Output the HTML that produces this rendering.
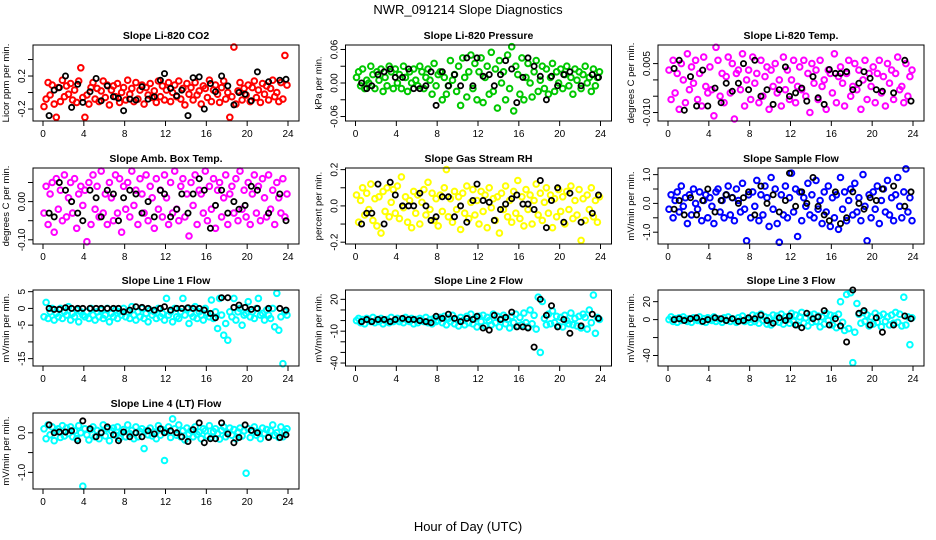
<!DOCTYPE html>
<html><head><meta charset="utf-8"><style>
html,body{margin:0;padding:0;background:#fff}
svg{display:block;font-family:"Liberation Sans",sans-serif}
</style></head><body>
<svg id="chart" width="936" height="540" viewBox="0 0 936 540">
<text x="468" y="14" text-anchor="middle" font-size="13">NWR_091214  Slope Diagnostics</text>
<text x="468" y="531" text-anchor="middle" font-size="13">Hour of Day (UTC)</text>
</svg>
<script>
const hours=[0.1,0.3,0.5,0.7,0.9,1.1,1.3,1.5,1.7,1.9,2.1,2.3,2.5,2.7,2.9,3.1,3.3,3.5,3.7,3.9,4.1,4.3,4.5,4.7,4.9,5.1,5.3,5.5,5.7,5.9,6.1,6.3,6.5,6.7,6.9,7.1,7.3,7.5,7.7,7.9,8.1,8.3,8.5,8.7,8.9,9.1,9.3,9.5,9.7,9.9,10.1,10.3,10.5,10.7,10.9,11.1,11.3,11.5,11.7,11.9,12.1,12.3,12.5,12.7,12.9,13.1,13.3,13.5,13.7,13.9,14.1,14.3,14.5,14.7,14.9,15.1,15.3,15.5,15.7,15.9,16.1,16.3,16.5,16.7,16.9,17.1,17.3,17.5,17.7,17.9,18.1,18.3,18.5,18.7,18.9,19.1,19.3,19.5,19.7,19.9,20.1,20.3,20.5,20.7,20.9,21.1,21.3,21.5,21.7,21.9,22.1,22.3,22.5,22.7,22.9,23.1,23.3,23.5,23.7,23.9];
const blackHours=[0.6,1.1,1.6,2.2,2.8,3.4,3.9,4.6,5.2,5.7,6.3,6.9,7.4,7.9,8.5,9.1,9.7,10.3,10.9,11.5,11.9,12.5,13.1,13.6,14.2,14.7,15.3,15.8,16.4,16.9,17.5,18.1,18.7,19.2,19.8,20.4,21.0,22.1,23.2,23.8];
const xTicks=[0,4,8,12,16,20,24];
const titles=["Slope Li-820 CO2","Slope Li-820 Pressure","Slope Li-820 Temp.","Slope Amb. Box Temp.","Slope Gas Stream RH","Slope Sample Flow","Slope Line 1 Flow","Slope Line 2 Flow","Slope Line 3 Flow","Slope Line 4 (LT) Flow"];
const yTitles=["Licor ppm per min.","kPa per min.","degrees C per min.","degrees C per min.","percent per min.","mV/min per min.","mV/min per min.","mV/min per min.","mV/min per min.","mV/min per min."];
const colors=["#ff0000","#00c800","#ff00ff","#ff00ff","#ffff00","#0000ff","#00ffff","#00ffff","#00ffff","#00ffff"];
const yMin=[-0.345,-0.068,-0.0126,-0.111,-0.21,-1.41,-17.2,-42.8,-51.7,-1.42];
const yMax=[0.576,0.068,0.0107,0.088,0.209,1.23,5.5,28.8,33,0.5];
const yTicks=[[-0.2,0,0.2,0.4],[-0.06,-0.03,0,0.03,0.06],[-0.01,-0.005,0,0.005],[-0.1,-0.05,0,0.05],[-0.2,-0.1,0,0.1,0.2],[-1,-0.5,0,0.5,1],[-15,-10,-5,0,5],[-40,-30,-20,-10,0,10,20],[-40,-20,0,20],[-1,-0.5,0]];
const yTickLabels=[["-0.2","","0.2",""],["-0.06","","0.00","","0.06"],["-0.010","","","0.005"],["-0.10","","0.00",""],["-0.2","","0.0","","0.2"],["-1.0","","0.0","","1.0"],["-15","","-5","0","5"],["-40","","","-10","","","20"],["-40","","0","20"],["-1.0","","0.0"]];
const s0=[-.17,-.08,.12,-.03,.09,-.14,-.3,.06,-.11,.15,-.05,.08,-.02,.11,-.09,.03,-.12,.14,.3,-.06,-.3,-.03,-.14,.06,.12,-.08,.05,-.11,.02,.14,-.06,.09,-.15,.03,.08,-.05,.11,-.12,0,.06,-.09,.15,-.02,.05,-.11,.12,-.08,.03,.09,-.14,.06,-.03,.11,-.06,.02,-.12,.14,-.05,.08,-.09,.03,.12,-.11,0,.09,-.05,.14,-.08,.05,-.15,.11,-.02,.06,-.09,.12,-.03,.02,-.14,.08,.05,-.06,.15,-.11,.03,.09,-.02,-.12,.06,.14,-.08,0,-.3,-.05,.55,-.14,.02,.12,-.09,.05,-.03,.09,-.11,.06,.14,-.06,.03,-.12,.11,-.02,.08,-.09,.05,.15,-.05,0,-.11,.12,-.08,.45,.09];
const s1=[.01,.02,-.005,.025,-.01,.005,0,.03,.015,-.01,.02,.005,.025,-.015,.01,-.005,.03,.02,-.01,.025,0,.015,-.01,.03,.01,-.015,.02,0,.025,.005,-.005,.03,.02,-.01,.01,.025,.005,-.02,.035,-.005,.015,.02,-.03,.01,-.02,-.005,.04,.005,.015,-.015,.03,-.04,.045,.01,-.025,.02,.05,-.01,.035,-.03,.02,.045,-.035,.01,.03,-.02,.055,-.015,.025,-.045,.04,0,.02,-.03,.05,-.01,.065,-.05,.03,.015,-.02,.045,-.03,.01,.035,0,-.025,.02,.04,-.015,.005,.03,-.01,.025,-.02,.01,.035,-.015,.02,0,.025,-.01,.015,.03,-.005,.01,-.02,.025,.005,.02,-.01,.015,.03,0,.01,-.015,.025,-.005,.01,.02];
const s2=[.003,-.006,.006,-.004,.002,-.009,.005,0,-.007,.008,-.003,.004,-.001,.006,-.006,.002,-.008,.007,-.002,-.004,.004,-.003,-.011,.01,.006,-.005,.002,-.007,.001,.007,-.004,.005,-.012,.002,.003,-.003,.008,-.008,0,.003,-.006,.007,-.001,.002,-.007,.006,-.005,.001,.004,-.009,.003,-.002,.005,-.004,0,-.008,.007,-.003,.003,-.006,0,.006,-.007,-.002,.004,-.003,.006,-.005,.002,-.01,.005,-.001,.003,-.006,.006,-.002,0,-.009,.003,.002,-.004,.008,-.007,.001,.004,-.001,-.008,.002,.006,-.005,-.002,.005,-.003,.003,-.009,0,.006,-.006,.002,-.002,.004,-.007,.002,.006,-.004,.001,-.008,.005,-.001,.003,-.006,.002,.007,-.003,-.002,-.007,.005,-.005,.001,.003];
const s3=[-.03,.04,-.06,.02,.05,-.08,.06,-.02,.03,-.05,.07,-.04,.01,.05,-.03,.06,-.07,.02,.04,-.01,.03,-.105,.05,-.06,.07,-.02,.04,-.04,.08,-.03,.02,-.06,.05,.01,-.05,.07,-.03,.06,-.08,.04,-.02,.05,-.04,.08,-.01,.03,-.06,.06,.02,-.03,.07,-.05,.04,.01,-.07,.06,-.02,.03,-.04,.07,.01,-.06,.05,-.03,.08,-.02,-.05,.04,.06,-.04,.02,-.09,.05,-.01,.07,-.06,.03,.02,-.03,.08,-.05,.04,-.02,.06,-.07,.03,.05,-.04,.01,.07,-.06,.02,.04,-.03,.06,-.05,.08,-.02,.03,-.04,.05,-.06,.02,.07,-.03,.04,-.05,.06,.01,-.04,.07,-.02,.03,-.06,.05,.01,-.03,.06,-.04,.02];
const s4=[.06,-.09,.03,.1,-.05,.07,-.02,.12,-.08,.04,-.11,.05,-.15,.08,-.03,.1,-.06,.02,.09,-.04,.11,-.07,.16,-.01,.05,-.09,.03,-.12,.08,-.04,.06,-.1,.02,.09,-.05,.13,-.02,.07,-.08,.04,-.11,.06,-.03,.1,.2,-.06,.04,-.09,.08,-.02,.05,-.13,.07,-.04,.11,-.07,.02,.09,-.05,.03,-.1,.08,-.03,.06,-.12,.1,-.01,.04,-.08,.05,-.15,.07,-.02,.11,-.06,.03,-.09,.08,-.04,.14,-.07,.05,-.11,.09,-.02,.06,-.1,.03,.12,-.05,.07,-.08,.02,.1,-.04,.06,-.12,.04,-.06,.09,-.03,.05,-.1,.08,-.02,.11,-.07,.03,-.05,.09,-.19,.04,-.08,.06,-.02,.1,-.06,.03,-.09,.05];
const s5=[-.2,.3,-.5,.1,.4,-.3,.6,-.1,.2,-.7,.3,-.4,.5,0,-.2,.4,-.6,.1,.3,-.5,.2,-.1,-.7,.4,.5,-.3,.1,-.5,.3,.6,-.4,.2,-.6,.5,.1,-.3,.7,-.2,-1.3,.3,-.5,.4,-.1,.8,-.6,.3,-.4,.6,.2,-.8,.9,-.2,.5,-.7,-1.35,.3,-.4,.6,-.5,.2,1.05,-.3,.5,-1.15,.4,-.6,.2,-.1,.7,-.4,.3,-.5,.8,-.2,.1,-.7,.4,-.3,.6,-.8,.2,-.5,.3,-.9,.9,-.2,.4,-.6,.1,.5,-.4,.7,-.3,.2,-.6,1.0,-.1,-1.3,.3,-.5,.4,-.2,.6,-.7,.1,.5,-.3,.8,-.4,.2,-.6,.3,.9,-.1,-.5,.4,1.2,-.3,.2,-.6];
const s6=[-2.5,1.8,-3,-1,0,-3.5,-1.5,-2.5,0,-3,-1,-2,.5,-3.5,-1.5,-2.5,-.5,-4,-1,-2,-2.5,-1,-3,0,-2,-3.5,-1,-2.5,-.5,-3,-2,0,-4,-1.5,-2.5,-.5,-3,-1,-2,0,-2.5,-1,-3,.5,-2,-3.5,-1,-2.5,0,-3,-1.5,-4,-.5,-2,-1,-3,0,-2.5,-1.5,-3.5,3,-2,-1,-4,0,-2.5,-3,-1,3,-2,0,-4.5,-1.5,-2.5,.5,-3,-1,-2,-3.5,0,-1.5,-2.5,2.5,-3,-1,-6,3,-2,-8,-4.5,-9.5,-1,-2.5,3,-3.5,-1,0,-5,-2,-1.5,2,-2.5,-1,-3,0,3,-2,-1.5,-3.5,-.5,-2,-3,0,-5.5,4.5,-6.5,-2.5,-16.5,-1,-2];
const s7=[0,2,-2,1,-3,2,0,-1,3,-2,1,-1,2,-3,0,1,-2,3,-1,0,2,-1,1,-2,3,0,-1,2,-3,1,-2,2,0,-1,3,-2,1,-3,2,-1,0,3,-2,4,-4,2,-1,5,-3,1,-5,3,0,-4,4,-2,6,-3,2,-6,4,-1,5,-5,3,0,-4,6,-2,4,-6,2,5,-3,1,-7,4,-2,6,-5,3,-4,7,-2,-6,10,-3,5,-8,22,-30,18,2,-4,6,-3,9,-2,4,-5,3,-6,5,0,-3,7,-4,2,-5,4,-7,6,3,-8,10,-2,24,-12,3,1];
const s8=[0,3,-2,1,-3,2,-1,3,0,-2,1,-3,2,0,-1,3,-2,1,-3,2,0,-1,3,-2,1,0,-3,2,-1,3,-2,1,0,-3,2,-1,4,-2,1,0,-3,5,-2,4,-4,6,-1,3,-5,2,-6,5,-2,4,-3,6,-5,3,0,-4,7,-2,5,-6,3,8,-4,2,-7,5,-3,6,-2,4,-8,3,-5,7,-1,5,-6,4,-9,6,20,-3,-12,28,-10,30,-48,-14,18,6,-4,8,-2,5,-7,3,-5,7,-3,4,-8,6,-2,3,-6,5,-4,8,-3,6,-7,25,-6,3,-28,2];
const s9=[.1,-.15,.2,-.05,.15,-.2,.05,.1,-.12,.18,-.08,.12,-.02,.15,-.1,.05,-.15,.18,0,-1.35,.1,-.05,-.18,.08,.15,-.1,.06,-.15,.02,.2,-.08,.1,-.2,.05,.12,-.06,.15,-.14,0,.08,-.1,.2,-.02,.06,-.15,.15,-.1,.03,.1,-.4,.05,-.05,.12,-.08,.02,-.15,.18,-.06,.08,-.7,.03,.15,-.12,.35,.1,-.06,.2,-.1,.05,-.18,.12,-.03,.06,-.1,.15,-.04,.02,-.15,.1,.05,-.08,.18,-.12,.03,.1,-.02,-.16,.06,.15,-.1,0,.12,-.06,.08,-.15,.02,.12,-.08,.05,-1.02,.1,-.12,.06,.15,-.06,.03,-.15,.12,-.02,.08,-.1,.05,.2,-.06,0,-.12,.15,-.1,.03,.1];
const b0=[-.28,.03,.06,.2,-.18,.1,-.12,.01,.17,-.1,.08,-.05,-.07,-.22,-.08,-.09,.07,-.08,-.05,.15,.23,.05,-.04,.03,-.28,.18,.19,-.2,.11,.01,.2,.08,-.15,0,-.02,-.1,.25,.13,.15,.16];
const b1=[0,-.01,-.005,.015,.02,.025,.01,.01,.025,-.01,-.01,-.005,.02,-.04,.02,-.005,.015,-.005,.045,-.005,.045,.012,.015,-.005,.015,.04,.025,-.035,.01,.045,.03,.012,-.03,.012,-.005,.015,.02,-.005,.015,.01];
const b2=[.0035,.006,-.0093,.001,-.008,.003,-.008,-.0025,-.007,-.001,-.0035,-.001,.005,-.003,.006,-.005,-.003,-.0075,-.003,.004,-.005,-.004,-.0025,-.0065,.001,-.0055,-.0075,.0032,.002,.002,.0025,-.003,-.001,.0025,.0005,-.003,-.0035,-.004,.006,-.0065];
const b3=[-.03,-.04,.05,.03,0,-.03,-.05,.03,.01,-.04,.03,.02,-.05,.01,.03,.02,-.03,0,-.04,.03,.02,-.04,-.02,.02,-.03,.02,.06,.03,-.07,-.01,.03,-.03,0,-.02,-.01,.04,.03,-.03,.02,-.05];
const b4=[-.1,-.04,-.04,.12,-.1,.13,.06,0,0,0,.07,0,-.08,-.06,.05,.05,-.06,0,-.09,.03,.12,.03,.02,-.08,-.02,.01,.04,.06,.01,.01,-.02,.14,-.12,.03,.1,-.09,.07,-.09,-.04,.06];
const b5=[-.2,.1,-.4,.2,-.4,.1,.5,-.3,.1,.3,.2,0,.2,.4,-.4,.6,0,.3,-.3,.1,1.05,-.1,.4,0,.9,-.1,-.4,-.6,.4,-.7,-.5,.4,0,-.2,.2,.1,.5,.6,-.1,.4];
const b6=[0,-.3,-.3,.2,0,0,0,0,0,0,0,0,0,-1,-.5,.5,.3,0,-.5,0,.5,-.5,0,0,.2,0,0,-.5,-1.5,-2.8,3.2,3.2,.3,1,.3,-.3,0,0,0,-.5];
const b7=[-1,1,-1,1,1,-1,1,2,1,1,0,-1,-2,4,2,6,2,-1,2,1,4,-7,-9,5,1,3,8,-6,-6,-7,-25,20,5,14,-6,1,-12,-5,6,2];
const b8=[0,1,-1,1,2,-2,0,2,1,-1,1,-2,-1,2,1,5,-1,-4,2,-1,4,-6,-9,7,1,3,10,-6,1,-7,-25,33,7,10,-6,2,-14,-6,4,1];
const b9=[.2,0,.02,.02,.05,-.2,.3,.1,-.1,0,.15,-.05,-.2,.02,-.1,0,-.1,.05,-.03,.1,0,.05,0,-.1,-.22,.08,.25,-.25,-.15,-.15,.25,-.03,-.25,-.12,.2,.06,0,-.12,-.12,-.05];
const series=[s0,s1,s2,s3,s4,s5,s6,s7,s8,s9];
const blacks=[b0,b1,b2,b3,b4,b5,b6,b7,b8,b9];

const NS="http://www.w3.org/2000/svg";
const svg=document.getElementById('chart');
const colLeft=[33,345.5,658], rowTop=[45,168,290,413], boxW=266, boxH=76;
function mk(tag,attrs,parent){const e=document.createElementNS(NS,tag);for(const k in attrs)e.setAttribute(k,attrs[k]);parent.appendChild(e);return e;}
for(let p=0;p<10;p++){
  const L=colLeft[p%3], T=rowTop[Math.floor(p/3)];
  const g=mk('g',{},svg);
  
  
  const xs=h=>L+10+h/24*245;
  const ys=v=>T+boxH-(v-yMin[p])/(yMax[p]-yMin[p])*boxH;
  const t=mk('text',{x:L+boxW/2,y:T-6,'text-anchor':'middle','font-size':10.5,'font-weight':'bold'},g);
  t.textContent=titles[p];
  
  
  const yt=mk('text',{transform:`translate(${L-24},${T+boxH/2}) rotate(-90)`,'text-anchor':'middle','font-size':9.5},g);
  yt.textContent=yTitles[p];
  
  
  const pts=mk('g',{},g);
  
  
  series[p].forEach((v,i)=>{
    const c=mk('circle',{cx:xs(hours[i]).toFixed(1),cy:ys(v).toFixed(1),r:2.8,fill:'none',stroke:colors[p],'stroke-width':2},pts);
    
    
  });
  blacks[p].forEach((v,i)=>{
    const c=mk('circle',{cx:xs(blackHours[i]).toFixed(1),cy:ys(v).toFixed(1),r:2.6,fill:'none',stroke:'#000','stroke-width':1.8},pts);
    
    
  });
  const box=mk('rect',{x:L,y:T,width:boxW,height:boxH,fill:'none',stroke:'#000','stroke-width':1},g);
  
  
  xTicks.forEach(h=>{
    mk('line',{x1:xs(h),x2:xs(h),y1:T+boxH,y2:T+boxH+5,stroke:'#000'},g);
    const tl=mk('text',{x:xs(h),y:T+boxH+16,'text-anchor':'middle','font-size':10},g);
    tl.textContent=h;
    
    
  });
  yTicks[p].forEach((v,i)=>{
    mk('line',{x1:L-5,x2:L,y1:ys(v),y2:ys(v),stroke:'#000'},g);
    if(yTickLabels[p][i]){
      const tl=mk('text',{transform:`translate(${L-8},${ys(v)}) rotate(-90)`,'text-anchor':'middle','font-size':10},g);
      tl.textContent=yTickLabels[p][i];
      
      
    }
  });
}
</script>
</body></html>
